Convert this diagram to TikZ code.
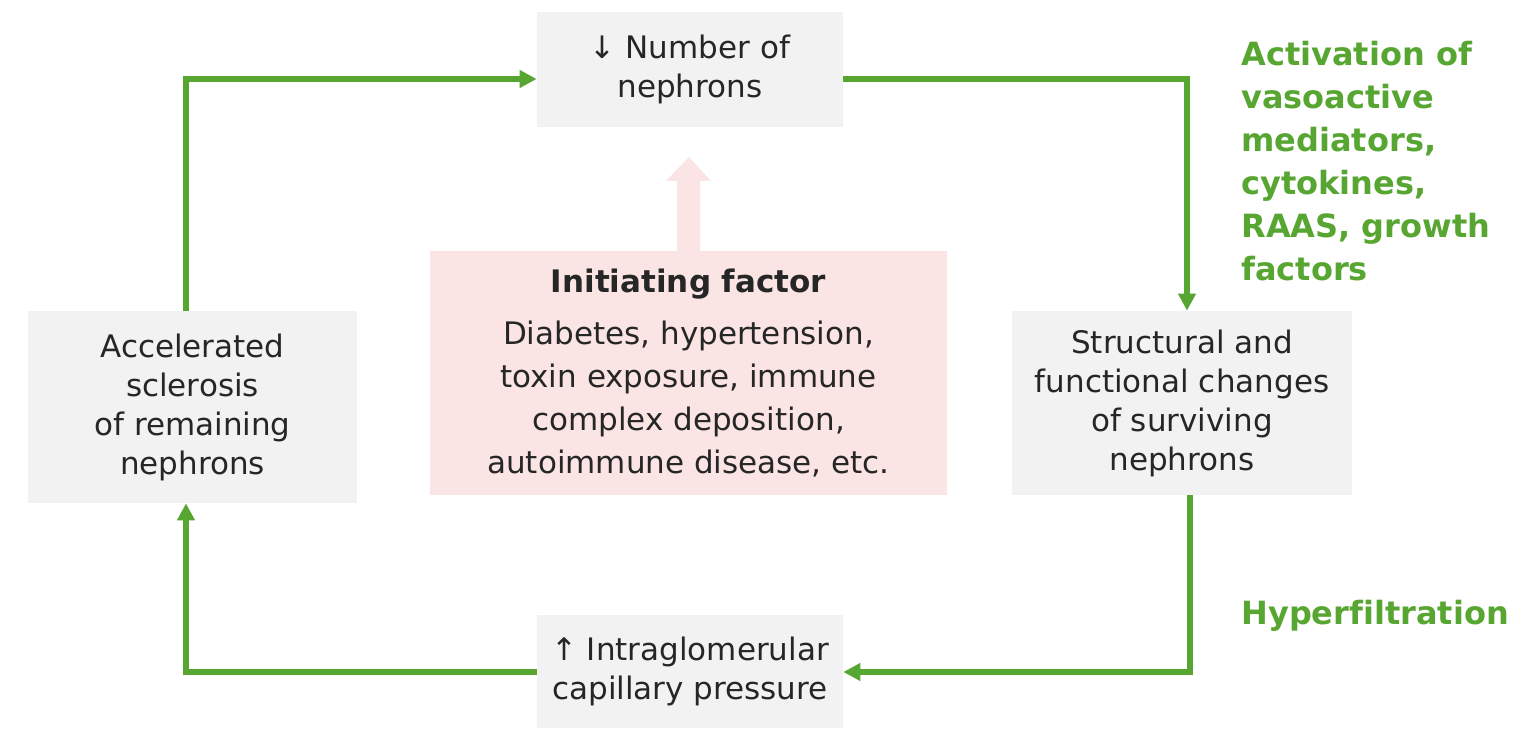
\documentclass[tikz,border=0pt]{standalone}
\usepackage{fontspec}
\setmainfont{DejaVu Sans}[Ligatures=NoCommon]
\usetikzlibrary{arrows.meta}
\definecolor{grn}{HTML}{58A632}
\definecolor{boxgray}{HTML}{F2F2F2}
\definecolor{pinkfill}{HTML}{FAE4E4}
\definecolor{txt}{HTML}{262626}
\begin{document}
\begin{tikzpicture}[x=0.5pt,y=-0.5pt,
  box/.style={fill=boxgray, inner sep=0pt, align=center, text=txt,
    font=\fontsize{15.5}{19.5}\selectfont},
  pbox/.style={fill=pinkfill, inner sep=0pt, align=center, text=txt,
    font=\fontsize{15.5}{21.5}\selectfont},
  flow/.style={draw=grn, line width=2.6pt, miter limit=10, -{Triangle[length=8.5pt,width=8.5pt]}},
  lbl/.style={text=grn, font=\bfseries\fontsize{16}{21.5}\selectfont, align=left, inner sep=0pt}]
\useasboundingbox (0,0) rectangle (1536,754);
\fill[white] (0,0) rectangle (1536,754);

\node[box, minimum width=153pt, minimum height=57.5pt] (T) at (690,69.5) {↓ Number of\\nephrons};
\node[box, minimum width=164.5pt, minimum height=96pt] (L) at (192.5,407) {Accelerated\\sclerosis\\of remaining\\nephrons};
\node[box, minimum width=170pt, minimum height=92pt] (R) at (1182,403) {Structural and\\functional changes\\of surviving\\nephrons};
\node[box, minimum width=153pt, minimum height=56.5pt] (B) at (690,671.5) {↑ Intraglomerular\\capillary pressure};
\node[pbox, minimum width=258.5pt, minimum height=122pt] (P) at (688.5,373)
  {{\bfseries Initiating factor}\\[4.5pt]Diabetes, hypertension,\\toxin exposure, immune\\complex deposition,\\autoimmune disease, etc.};

% pink up arrow
\fill[pinkfill] (677,251) -- (677,181) -- (666,181) -- (689,157) -- (711,181) -- (700,181) -- (700,251) -- cycle;

\coordinate (c1) at (186,79);
\coordinate (c2) at (1187,79);
\coordinate (c3) at (1190,672);
\coordinate (c4) at (186,672);
\draw[flow] (L.north -| c1) |- (T.west |- c1);
\draw[flow] (T.east |- c2) -| (R.north -| c2);
\draw[flow] (R.south -| c3) |- (B.east |- c3);
\draw[flow] (B.west |- c4) -| (L.south -| c4);

\node[lbl, anchor=north west] (A) at (1241,41) {Activation of\\vasoactive\\mediators,\\cytokines,\\RAAS, growth\\factors};
\node[lbl, anchor=base west] (H) at (1241,624) {Hyperfiltration};
\end{tikzpicture}
\end{document}
